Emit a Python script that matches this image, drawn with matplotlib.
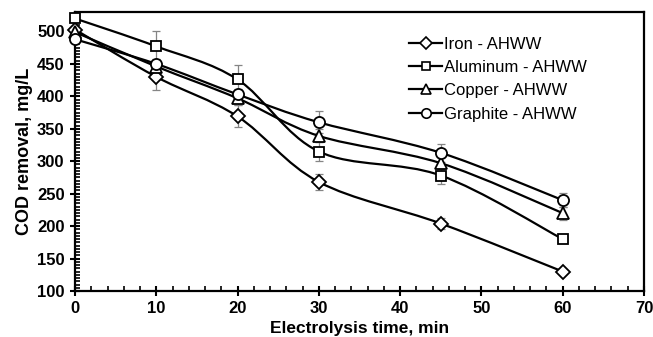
import numpy as np
import matplotlib.pyplot as plt
from matplotlib.path import Path
from matplotlib.patches import PathPatch
from matplotlib.ticker import MultipleLocator

plt.rcParams['font.family'] = ['Liberation Sans', 'DejaVu Sans']

time = [0, 10, 20, 30, 45, 60]

iron = [503, 430, 369, 268, 204, 130]
aluminum = [520, 477, 426, 315, 278, 180]
copper = [499, 446, 397, 339, 297, 220]
graphite = [488, 450, 403, 360, 313, 240]

iron_err = [6, 20, 17, 13, 8, 4]
aluminum_err = [5, 24, 22, 15, 13, 5]
copper_err = [6, 8, 10, 10, 9, 10]
graphite_err = [8, 8, 9, 17, 14, 11]

labels = ['Iron - AHWW', 'Aluminum - AHWW', 'Copper - AHWW', 'Graphite - AHWW']
markers = ['D', 's', '^', 'o']
msizes = [7, 7.5, 8, 8]


def smooth_path(x, y):
    # cubic bezier through the points, spreadsheet-style smoothing
    x = np.asarray(x, float)
    y = np.asarray(y, float)
    pts = np.column_stack([x, y])
    n = len(pts)
    verts = [pts[0]]
    codes = [Path.MOVETO]
    for i in range(n - 1):
        p0 = pts[i - 1] if i > 0 else pts[i]
        p1 = pts[i]
        p2 = pts[i + 1]
        p3 = pts[i + 2] if i + 2 < n else pts[i + 1]
        c1 = p1 + (p2 - p0) / 6.0
        c2 = p2 - (p3 - p1) / 6.0
        verts += [c1, c2, p2]
        codes += [Path.CURVE4] * 3
    return Path(verts, codes)


fig = plt.figure(figsize=(6.53, 3.37), dpi=100)
ax = fig.add_axes([75 / 653, (337 - 291) / 337, (644 - 75) / 653, (291 - 12) / 337])

series = [iron, aluminum, copper, graphite]
errs = [iron_err, aluminum_err, copper_err, graphite_err]

for vals, err in zip(series, errs):
    ax.errorbar(time, vals, yerr=err, fmt='none', ecolor='#858585',
                elinewidth=0.9, capsize=3, capthick=0.9, zorder=2)

for vals in series:
    ax.add_patch(PathPatch(smooth_path(time, vals), fill=False,
                           edgecolor='black', lw=1.6, zorder=3))

for vals, m, ms, lab in zip(series, markers, msizes, labels):
    ax.plot(time, vals, linestyle='none', marker=m, markersize=ms,
            markerfacecolor='white', markeredgecolor='black',
            markeredgewidth=1.3, zorder=4, clip_on=False)
    # legend proxy with line through marker
    ax.plot([], [], '-', color='black', lw=1.6, marker=m, markersize=ms * 0.85,
            markerfacecolor='white', markeredgecolor='black',
            markeredgewidth=1.2, label=lab)

ax.set_xlim(0, 70)
ax.set_ylim(100, 530)
ax.xaxis.set_major_locator(MultipleLocator(10))
ax.xaxis.set_minor_locator(MultipleLocator(2))
ax.yaxis.set_major_locator(MultipleLocator(50))
ax.yaxis.set_minor_locator(MultipleLocator(5))
ax.tick_params(which='major', direction='inout', length=7, width=1.5,
               labelsize=12, pad=4, top=False, right=False)
ax.tick_params(which='minor', direction='in', length=3.5, width=1.2,
               top=False, right=False)
for lab in ax.get_xticklabels() + ax.get_yticklabels():
    lab.set_fontweight('bold')
for sp in ax.spines.values():
    sp.set_linewidth(1.6)

ax.set_xlabel('Electrolysis time, min', fontsize=12.5, fontweight='bold', labelpad=3)
ax.set_ylabel('COD removal, mg/L', fontsize=13, fontweight='bold', labelpad=3)

ax.legend(loc='upper left', bbox_to_anchor=(0.587, 0.912), frameon=False,
          fontsize=12, handlelength=2.0, handletextpad=0.1, borderpad=0,
          labelspacing=0.5, borderaxespad=0)

fig.savefig('out.png', dpi=100)
